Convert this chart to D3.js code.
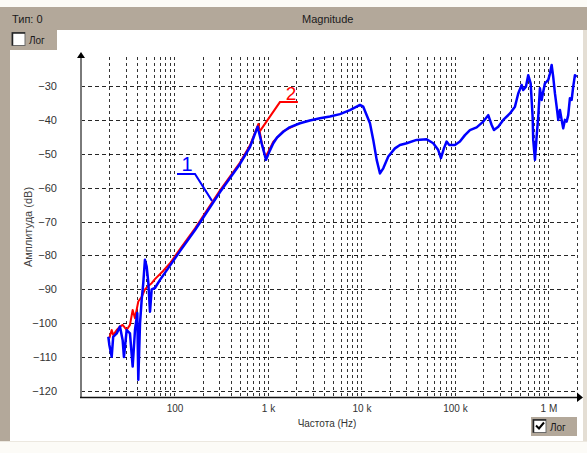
<!DOCTYPE html>
<html>
<head>
<meta charset="utf-8">
<script src="https://cdn.jsdelivr.net/npm/d3@7"></script>
<style>
body { margin: 0; background: #fff; }
svg { display: block; font-family: "Liberation Sans", Arial, sans-serif; }
</style>
</head>
<body>
<svg id="chart" width="587" height="453"></svg>
<script>
// measured curve 1 (blue) and curve 2 (red), frequency in Hz, amplitude in dB
var blueFreq = [19.6,20.1,21.3,22.1,24.1,26.1,27.9,28.8,30.8,33.4,35.7,37.8,40,41,42.8,44.6,46.4,48.3,50.4,52.5,54.7,57,61.8,70,89.5,114,166,307,502,642,776,855,953,1050,1140,1250,1460,1700,2200,2800,3600,4600,5890,7530,9640,10450,12330,13370,14550,15780,17110,19360,22810,25810,30420,38900,49770,58600,66270,70800,76230,81470,86900,100000,113000,127900,144600,170600,200800,227100,247000,261300,290500,328700,387400,438400,475400,516800,537500,574300,607800,645300,677200,687600,717400,747800,778000,811100,845700,879400,917100,956700,995900,1038000,1082000,1125000,1174000,1224000,1273000,1327000,1384000,1439000,1501000,1565000,1628000,1698000,1771000,1841000,1920000,2003000];
var blueDb = [-104,-106.4,-109.9,-104,-103,-101,-105,-110,-102,-103,-112.8,-102,-97,-116.7,-100,-93,-88,-81.3,-83.3,-88,-96.6,-90,-89.6,-87.2,-83,-78.8,-72.5,-61.3,-53,-48,-42,-46.9,-51.8,-49,-46.9,-45.2,-43.5,-42.2,-41,-40.2,-39.5,-39,-38.3,-37.1,-35.6,-36.1,-41,-45.9,-51.8,-55.8,-54.3,-50.8,-48.4,-47.4,-46.9,-45.9,-45.7,-46.9,-48.9,-51.3,-48.4,-46.4,-47.4,-47.4,-46.4,-44.5,-43,-42.2,-40.5,-38.6,-41.5,-43,-42,-40,-38.1,-36.1,-32.2,-29.7,-31.2,-30.2,-26.8,-29.2,-39,-45.9,-51.8,-44.9,-39,-30.7,-34.1,-31.7,-29.2,-28.7,-28.2,-26.3,-23.8,-27.3,-32.2,-36.1,-40,-37.1,-40,-42.5,-40,-40.5,-38.6,-33.6,-34.1,-30.2,-26.8,-27.3];

var redFreq = [20.1,21.3,22.1,24.1,26.1,27.9,30.8,33.4,35.7,37.8,41,44.6,48.3,52.5,57,61.8,76,89.5,114,166,307,502,642,790,860,940,1050,1140,1460,2000];
var redDb = [-104.4,-102,-103.5,-102,-101,-100.5,-102,-100.5,-96.1,-98.5,-93.6,-92.2,-90,-89,-88.2,-87,-84.5,-82.3,-78.2,-72,-60.8,-52.6,-47.5,-41.2,-47,-51,-48.4,-46.4,-43.3,-41.5];

var xTickValues = [100, 1000, 10000, 100000, 1000000];
var xTickLabels = ["100", "1 k", "10 k", "100 k", "1 M"];
var yTickValues = [-120, -110, -100, -90, -80, -70, -60, -50, -40, -30];

var taupe = "#b3a89a";
var svg = d3.select("#chart");

// window frame
svg.append("rect").attr("width", 587).attr("height", 453).attr("fill", "#fcfbf7");
svg.append("rect").attr("x", 0).attr("y", 7).attr("width", 587).attr("height", 434).attr("fill", "#fff");
svg.append("rect").attr("x", 0).attr("y", 7).attr("width", 587).attr("height", 23).attr("fill", taupe);
svg.append("rect").attr("x", 0).attr("y", 30).attr("width", 10).attr("height", 411).attr("fill", taupe);
svg.append("rect").attr("x", 0).attr("y", 30).attr("width", 57).attr("height", 20).attr("fill", taupe);
svg.append("rect").attr("x", 583).attr("y", 30).attr("width", 4).attr("height", 411).attr("fill", "#e4ded4");
svg.append("line").attr("x1", 0).attr("x2", 587).attr("y1", 441.5).attr("y2", 441.5).attr("stroke", "#ece8e0");

svg.append("text").attr("x", 12).attr("y", 23).attr("font-size", 11).attr("fill", "#1a1a1a").text("Тип: 0");
svg.append("text").attr("x", 302).attr("y", 23).attr("font-size", 11).attr("fill", "#1a1a1a").text("Magnitude");

function checkbox(x, y, checked) {
	svg.append("rect").attr("x", x).attr("y", y).attr("width", 13).attr("height", 13)
		.attr("fill", "#fff").attr("stroke", "#6a6a6a").attr("stroke-width", 1);
	svg.append("path").attr("d", "M" + (x + 0.5) + "," + (y + 13) + "V" + (y + 0.5) + "H" + (x + 13))
		.attr("fill", "none").attr("stroke", "#222").attr("stroke-width", 1.5);
	if (checked) {
		svg.append("path").attr("d", "M" + (x + 3) + "," + (y + 6) + "l3,3l5,-6")
			.attr("fill", "none").attr("stroke", "#000").attr("stroke-width", 2);
	}
}
checkbox(12, 32.5, false);
svg.append("text").attr("x", 29).attr("y", 44).attr("font-size", 10).attr("fill", "#1a1a1a").text("Лог");

svg.append("rect").attr("x", 531).attr("y", 417).attr("width", 46).attr("height", 19).attr("fill", taupe);
checkbox(533, 419.5, true);
svg.append("text").attr("x", 550).attr("y", 431).attr("font-size", 10).attr("fill", "#1a1a1a").text("Лог");

// scales
var x = d3.scaleLog().domain([10, 2.23e6]).range([81, 581]);
var y = d3.scaleLinear().domain([-120, -30]).range([391, 86]);

// grid: every 1..9 multiple of each decade
var gridFreqs = [];
for (var p = 1; p <= 6; p++) {
	for (var k = 1; k <= 9; k++) {
		var f = k * Math.pow(10, p);
		if (f > 10 && f <= 2e6) gridFreqs.push(f);
	}
}
var grid = svg.append("g").attr("stroke", "#000").attr("stroke-width", 1);
grid.selectAll("line.v").data(gridFreqs).enter().append("line")
	.attr("class", "v")
	.attr("x1", function(d) { return Math.round(x(d)) + 0.5; })
	.attr("x2", function(d) { return Math.round(x(d)) + 0.5; })
	.attr("y1", 57).attr("y2", 397)
	.attr("stroke-dasharray", "3,3")
	.attr("stroke-opacity", 0.8);
grid.selectAll("line.h").data(yTickValues).enter().append("line")
	.attr("class", "h")
	.attr("x1", 81).attr("x2", 578)
	.attr("y1", function(d) { return Math.round(y(d)) + 0.5; })
	.attr("y2", function(d) { return Math.round(y(d)) + 0.5; })
	.attr("stroke-dasharray", "4,3")
	.attr("stroke-opacity", 0.85);

// tick labels
var yAxis = svg.append("g").attr("transform", "translate(81,0)")
	.call(d3.axisLeft(y).tickValues(yTickValues).tickSize(0).tickPadding(24));
yAxis.select(".domain").remove();
yAxis.selectAll("text").attr("font-size", 11).attr("fill", "#333").attr("font-family", "Liberation Sans, Arial, sans-serif");

var xAxis = svg.append("g").attr("transform", "translate(0,397)")
	.call(d3.axisBottom(x).tickValues(xTickValues).tickSize(0).tickPadding(8)
		.tickFormat(function(d, i) { return xTickLabels[i]; }));
xAxis.select(".domain").remove();
xAxis.selectAll("text").attr("font-size", 10).attr("fill", "#333").attr("font-family", "Liberation Sans, Arial, sans-serif");

svg.append("text").attr("x", 327).attr("y", 427).attr("text-anchor", "middle")
	.attr("font-size", 10).attr("fill", "#333").text("Частота (Hz)");
svg.append("text").attr("transform", "translate(32,227) rotate(-90)").attr("text-anchor", "middle")
	.attr("font-size", 11).attr("fill", "#444").text("Амплитуда (dB)");

// axis lines with arrows
svg.append("line").attr("x1", 81).attr("x2", 81).attr("y1", 398).attr("y2", 57)
	.attr("stroke", "#7a7a7a").attr("stroke-width", 2);
svg.append("path").attr("d", "M77,58L85,58L81,52Z").attr("fill", "#000");
svg.append("line").attr("x1", 80).attr("x2", 578).attr("y1", 397.5).attr("y2", 397.5)
	.attr("stroke", "#111").attr("stroke-width", 1.5);
svg.append("path").attr("d", "M577,392.5L577,402L583,397.5Z").attr("fill", "#000");

// curves
var line = d3.line()
	.x(function(d) { return x(d[0]); })
	.y(function(d) { return y(d[1]); });

var red = d3.zip(redFreq, redDb);
var blue = d3.zip(blueFreq, blueDb);

svg.append("path").datum(red).attr("d", line)
	.attr("fill", "none").attr("stroke", "#ff0000").attr("stroke-width", 2).attr("stroke-linejoin", "round");
svg.append("path").datum(blue).attr("d", line)
	.attr("fill", "none").attr("stroke", "#0000ff").attr("stroke-width", 2.5).attr("stroke-linejoin", "round");

// curve labels with leader lines (anchored to a point on each curve)
var notes = [
	{ label: "1", f: 252, db: -63.9, color: "#0000ff", knee: [-17, -27], end: [-35, -27], text: [-25, -30], size: 20 },
	{ label: "2", f: 820, db: -43.3, color: "#ff0000", knee: [20, -29], end: [38, -29], text: [31, -31], size: 19 }
];
notes.forEach(function(n) {
	var px = x(n.f), py = y(n.db);
	svg.append("path")
		.attr("d", "M" + px + "," + py + "L" + (px + n.knee[0]) + "," + (py + n.knee[1]) + "L" + (px + n.end[0]) + "," + (py + n.end[1]))
		.attr("fill", "none").attr("stroke", n.color).attr("stroke-width", 2);
	svg.append("text").attr("x", px + n.text[0]).attr("y", py + n.text[1])
		.attr("text-anchor", "middle").attr("font-size", n.size).attr("fill", n.color).text(n.label);
});
</script>
</body>
</html>
